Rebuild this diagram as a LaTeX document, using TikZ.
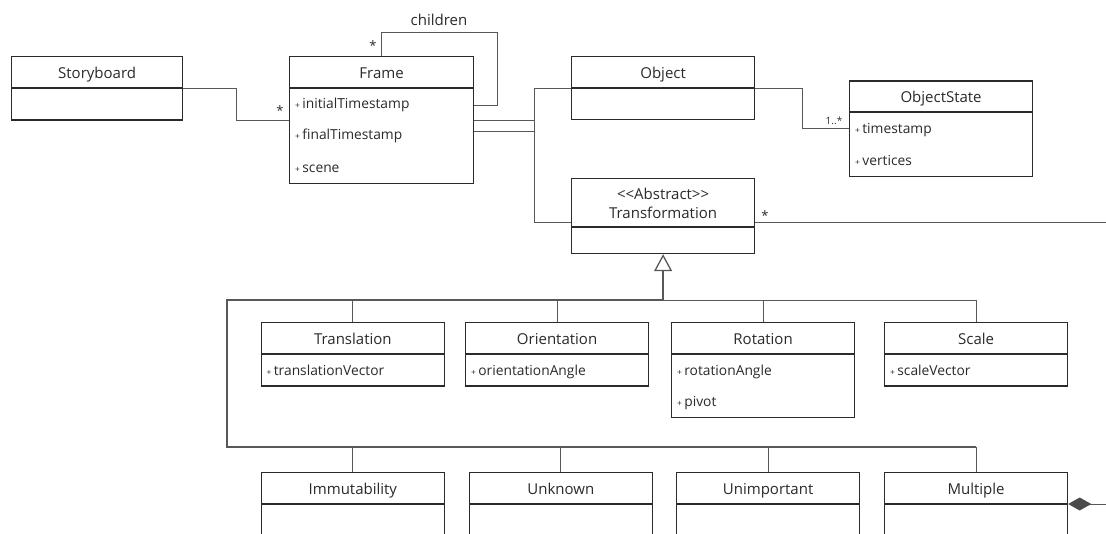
\documentclass[tikz,border=0pt]{standalone}
\usepackage{fontspec}
\setmainfont{Open Sans}
\usetikzlibrary{arrows.meta,calc}

\definecolor{boxc}{HTML}{2B2B2B}
\definecolor{linec}{HTML}{585858}
\definecolor{txt}{HTML}{2A2A2A}
\definecolor{diam}{HTML}{4A4A4A}

% UML class: name, left, top, width, header height, total height, title
\newcommand\umlclass[7]{%
  \node[box, minimum width=#4pt, minimum height=#6pt] (#1) at (#2,#3) {};
  \draw[boxc, line width=1.2pt] ($(#1.north west)+(0,#5)$) -- ($(#1.north east)+(0,#5)$);
  \node[title] (#1-t) at ($(#1.north)+(0,#5/2+6.5)$) {#7};
}
% attribute row: name, class, y, text
\newcommand\umlattr[4]{%
  \node[attr] (#1) at ($(#2.west |- 0,#3)+(6,5)$) {{\fontsize{8.5}{8.5}\selectfont +}\,#4};
}

\begin{document}
\begin{tikzpicture}[x=1pt,y=-1pt,
  box/.style={draw=boxc, line width=1.2pt, fill=white, inner sep=0pt, anchor=north west},
  link/.style={draw=linec, line width=0.9pt},
  stem/.style={draw=linec, line width=1.3pt},
  title/.style={font=\fontsize{15}{17}\selectfont, text=txt, inner sep=0pt, anchor=base},
  attr/.style={font=\fontsize{13.8}{16}\selectfont, text=txt, inner sep=0pt, anchor=base west},
  mult/.style={font=\fontsize{13}{14}\selectfont, text=txt, inner sep=0pt},
]
\useasboundingbox (0,0) rectangle (1106,534);
\clip (0,0) rectangle (1106,534);

% ---- classes ----
\umlclass{sb}{11}{56}{171}{32}{63.5}{Storyboard}
\umlclass{frame}{289}{56}{184}{32}{127}{Frame}
\umlattr{fr1}{frame}{104}{initialTimestamp}
\umlattr{fr2}{frame}{135}{finalTimestamp}
\umlattr{fr3}{frame}{168}{scene}

\umlclass{obj}{571}{56}{183}{32}{63}{Object}
\umlclass{ostate}{849}{80.5}{183}{31.5}{95.5}{ObjectState}
\umlattr{os1}{ostate}{129}{timestamp}
\umlattr{os2}{ostate}{161}{vertices}

\node[box, minimum width=183pt, minimum height=75pt] (trans) at (571,178) {};
\draw[boxc, line width=1.2pt] ($(trans.north west)+(0,49)$) -- ($(trans.north east)+(0,49)$);
\node[font=\fontsize{15}{19}\selectfont, text=txt, inner sep=0pt, align=center] (trans-t)
  at ($(trans.north)+(0,25)$)
  {<\kern0pt<Abstract>\kern0pt>\\Transformation};

\umlclass{tl}{260.5}{322}{183.5}{32}{63.5}{Translation}
\umlattr{tl1}{tl}{371}{translationVector}
\umlclass{ori}{465}{322}{183}{32}{63.5}{Orientation}
\umlattr{ori1}{ori}{371}{orientationAngle}
\umlclass{rot}{671}{322}{183}{32}{95}{Rotation}
\umlattr{rot1}{rot}{371}{rotationAngle}
\umlattr{rot2}{rot}{402}{pivot}
\umlclass{sc}{884}{322}{183}{32}{63.5}{Scale}
\umlattr{sc1}{sc}{371}{scaleVector}

\umlclass{imm}{260.5}{472}{183.5}{32}{90}{Immutability}
\umlclass{unk}{468.5}{472}{183.5}{32}{90}{Unknown}
\umlclass{unimp}{676}{472}{183}{32}{90}{Unimportant}
\umlclass{mul}{884}{472}{183}{32}{90}{Multiple}

% ---- associations ----
\draw[link] (sb.east) -| ($(sb.east)!.5!(frame.west)$) |- (frame.west);
\node[mult] (m-sb) at (280,111) {*};

\coordinate (loop) at ($(frame.north east)+(23,-24)$);
\draw[link] (frame.north) |- (loop) |- (frame.east |- fr1);
\node[mult] (m-loop) at (373,46) {*};
\node[font=\fontsize{15}{17}\selectfont, text=txt, inner sep=0pt] (lbl-children) at (439,20) {children};

\draw[link] (frame.east) -| ($(frame.east)+(60,0)$) |- (obj.west);
\draw[link] ($(frame.east |- fr2)+(0,-5)$) coordinate (fr2-out)
  -| ($(frame.east)+(60,0)$) |- (trans.west |- 0,222);

\draw[link] (obj.east) -| ($(obj.east)!.5!(ostate.west)$) |- (ostate.west);
\node[mult, font=\fontsize{10}{11}\selectfont] (m-os) at (834,121) {1..*};

\coordinate (tr-end) at (1106,222);
\draw[link] (trans.east |- tr-end) -- (tr-end);
\node[mult] (m-tr) at (765,216) {*};

\coordinate (mul-end) at (1106,504);
\draw[link, -{Diamond[length=23pt,width=13pt,fill=diam,color=diam]}]
  (mul-end) -- (mul.east |- mul-end);

% ---- generalization ----
\coordinate (J) at (trans.south |- 0,300);
\coordinate (L1) at (227,300);
\coordinate (L2) at (227,447);
\foreach \c in {tl,ori,rot,sc} \draw[link] (J) -| (\c.north);
\foreach \c in {imm,unk,unimp,mul} \draw[link] (L2) -| (\c.north);
\draw[stem] (J) -- (L1) -- (L2) -- (L2 -| mul.north);
\draw[stem, -{Triangle[open,length=17pt,width=18pt,fill=white]}] (J) -- (trans.south);
\end{tikzpicture}
\end{document}
